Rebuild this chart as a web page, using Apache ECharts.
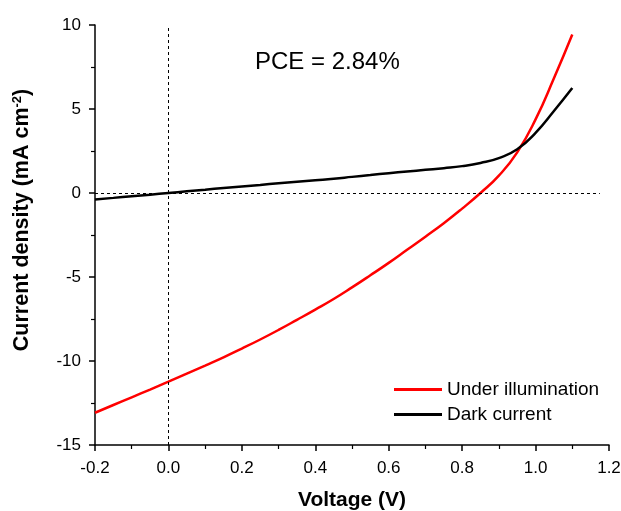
<!DOCTYPE html>
<html>
<head>
<meta charset="utf-8">
<script src="https://cdn.jsdelivr.net/npm/echarts@6/dist/echarts.min.js"></script>
<style>html,body{margin:0;padding:0;background:#fff}#c{width:621px;height:511px}</style>
</head>
<body>
<div id="c"></div>
<script>
const voltage = [-0.2,-0.15,-0.1,-0.05,0.0,0.05,0.1,0.15,0.2,0.25,0.3,0.35,0.4,0.45,0.5,0.55,0.6,0.65,0.7,0.75,0.8,0.85,0.9,0.95,1.0,1.05,1.1];
const illuminated = [-13.08,-12.62,-12.16,-11.70,-11.23,-10.75,-10.27,-9.78,-9.26,-8.72,-8.15,-7.55,-6.94,-6.31,-5.62,-4.90,-4.16,-3.38,-2.60,-1.80,-0.93,0.0,1.03,2.42,4.38,6.83,9.44];
const dark = [-0.38,-0.29,-0.19,-0.10,0.0,0.10,0.20,0.30,0.39,0.48,0.58,0.67,0.76,0.85,0.96,1.07,1.18,1.28,1.38,1.48,1.60,1.79,2.08,2.60,3.58,4.88,6.25];
const seriesNames = ['Under illumination','Dark current'];
const pceText = 'PCE = 2.84%';

const font = 'Liberation Sans, Arial, sans-serif';
const chart = echarts.init(document.getElementById('c'));
chart.setOption({
  animation: false,
  backgroundColor: '#fff',
  grid: {left: 95, right: 12, top: 25, bottom: 66, outerBoundsMode: 'none', containLabel: false},
  legend: {
    orient: 'vertical', left: 394, top: 380, itemGap: 6, padding: 0,
    itemWidth: 48, itemHeight: 3, icon: 'rect',
    textStyle: {fontFamily: font, fontSize: 19, color: '#000'},
    data: seriesNames
  },
  graphic: [{
    type: 'text', left: 255, top: 50,
    style: {text: pceText, font: '24px ' + font, fill: '#000'}
  }],
  xAxis: {
    type: 'value', min: -0.2, max: 1.2, interval: 0.2,
    name: 'Voltage (V)', nameLocation: 'middle', nameGap: 45,
    nameTextStyle: {fontFamily: font, fontSize: 21, fontWeight: 'bold', color: '#000'},
    axisLine: {onZero: false, lineStyle: {color: '#000', width: 1.5}},
    axisTick: {show: true, inside: false, length: 6, lineStyle: {color: '#000', width: 1.5}},
    minorTick: {show: true, splitNumber: 2, length: 4, lineStyle: {color: '#000', width: 1.2}},
    axisLabel: {fontFamily: font, fontSize: 17, color: '#000', margin: 15,
      formatter: v => v.toFixed(1)},
    splitLine: {show: false}
  },
  yAxis: {
    type: 'value', min: -15, max: 10, interval: 5,
    name: '{b|Current density (mA cm}{s|-2}{b|)}', nameLocation: 'middle', nameGap: 61, nameRotate: 90,
    nameTextStyle: {padding: [0, 0, 0, 30], rich: {
      b: {fontFamily: font, fontSize: 21.5, fontWeight: 'bold', color: '#000'},
      s: {fontFamily: font, fontSize: 13, fontWeight: 'bold', color: '#000', verticalAlign: 'top', padding: [0,0,10,0]}
    }},
    axisLine: {onZero: false, lineStyle: {color: '#000', width: 1.5}},
    axisTick: {show: true, inside: false, length: 6, lineStyle: {color: '#000', width: 1.5}},
    minorTick: {show: true, splitNumber: 2, length: 4, lineStyle: {color: '#000', width: 1.2}},
    axisLabel: {fontFamily: font, fontSize: 17, color: '#000', margin: 14},
    splitLine: {show: false}
  },
  series: [{
    name: seriesNames[0], type: 'line', smooth: 0.5, showSymbol: false,
    data: voltage.map((v, i) => [v, illuminated[i]]),
    lineStyle: {color: '#ff0000', width: 2.5}, itemStyle: {color: '#ff0000'},
    z: 3
  }, {
    name: seriesNames[1], type: 'line', smooth: 0.5, showSymbol: false,
    data: voltage.map((v, i) => [v, dark[i]]),
    lineStyle: {color: '#000', width: 2.5}, itemStyle: {color: '#000'},
    z: 4,
    markLine: {
      silent: true, symbol: 'none', animation: false,
      lineStyle: {color: '#000', width: 1, type: [3, 3]},
      label: {show: false},
      data: [
        [{coord: [0, -15]}, {coord: [0, 10]}],
        [{coord: [-0.2, 0]}, {coord: [1.175, 0]}]
      ]
    }
  }]
});
</script>
</body>
</html>
